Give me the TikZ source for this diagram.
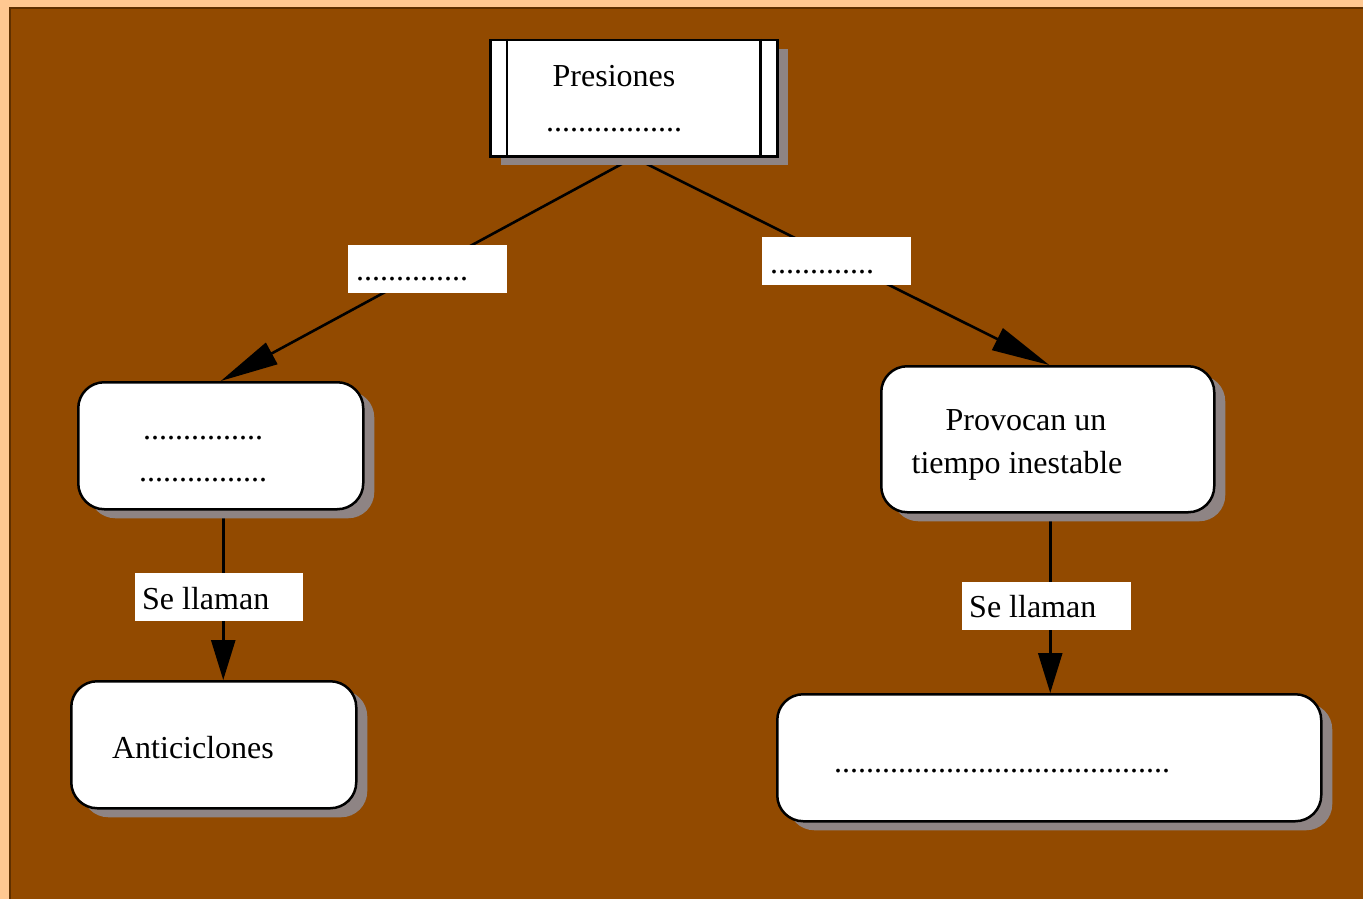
\documentclass[tikz,border=0pt]{standalone}
\usepackage{fontspec}
\setmainfont{Liberation Serif}
\usetikzlibrary{arrows.meta,shadows}
\definecolor{peach}{RGB}{255,200,145}
\definecolor{brownbg}{RGB}{146,74,0}
\definecolor{brownedge}{RGB}{95,48,0}
\definecolor{shadowgray}{RGB}{142,132,132}
\pgfdeclarelayer{back}
\pgfdeclarelayer{mid}
\pgfsetlayers{back,mid,main}
\begin{document}
\begin{tikzpicture}[x=1pt,y=-1pt,
  font=\fontsize{32}{38}\selectfont,
  shadowed/.style={drop shadow={shadow xshift=11pt,shadow yshift=-9pt,fill=shadowgray,opacity=1}},
  topbox/.style={draw=black,line width=2.5pt,fill=white,inner sep=0pt,shadowed},
  box/.style={draw=black,line width=2.5pt,fill=white,inner sep=0pt,rounded corners=26pt,shadowed},
  lab/.style={fill=white,inner sep=0pt,anchor=north west},
  txt/.style={inner sep=0pt,anchor=base},
  txtl/.style={inner sep=0pt,anchor=base west},
  conn/.style={line width=2.6pt,-{Triangle[length=58pt,width=24pt]}},
  vconn/.style={line width=2.6pt,-{Triangle[length=40pt,width=24pt]}}
]
\useasboundingbox (0,0) rectangle (1363,899);
\begin{pgfonlayer}{back}
  \fill[peach] (0,0) rectangle (1363,899);
  \fill[brownbg] (9,7) rectangle (1363,899);
  \draw[brownedge,line width=2pt] (10,899) -- (10,8) -- (1363,8);
\end{pgfonlayer}

% boxes
\node[topbox,anchor=north west,minimum width=287pt,minimum height=116pt] (top) at (489,39) {};
\draw[line width=2.5pt] ([xshift=18pt]top.north west) -- ([xshift=18pt]top.south west);
\draw[line width=2.5pt] ([xshift=-18pt]top.north east) -- ([xshift=-18pt]top.south east);
\node[txt] (tPres) at (614,87) {Presiones};
\node[txt] (tPresDots) at (614,131) {.................};

\node[box,anchor=north west,minimum width=285pt,minimum height=127pt] (lm) at (77,381) {};
\node[txt] (tLm1) at (203,439) {...............};
\node[txt] (tLm2) at (203,481) {................};

\node[box,anchor=north west,minimum width=333pt,minimum height=146pt] (rm) at (880,365) {};
\node[txt] (tRm1) at (1026,430) {Provocan un};
\node[txt] (tRm2) at (1017,473) {tiempo inestable};

\node[box,anchor=north west,minimum width=285pt,minimum height=127pt] (bl) at (70,680) {};
\node[txt] (tBl) at (193,758) {Anticiclones};

\node[box,anchor=north west,minimum width=544pt,minimum height=127pt] (br) at (776,693) {};
\node[txt] (tBr) at (1002,772) {..........................................};

% connectors
\begin{pgfonlayer}{mid}
  \draw[conn] (top.south) -- (lm.north);
  \draw[conn] (top.south) -- ([xshift=1.5pt]rm.north);
  \draw[vconn] ([xshift=2.5pt]lm.south) -- ([xshift=2.5pt]lm.south |- bl.north);
  \draw[vconn] ([xshift=2.5pt]rm.south) -- ([xshift=2.5pt]rm.south |- br.north);
\end{pgfonlayer}

% labels
\node[lab,minimum width=159pt,minimum height=48pt] (labL) at (348,245) {};
\node[txtl] (tLabL) at (356,280) {..............};
\node[lab,minimum width=149pt,minimum height=48pt] (labR) at (762,237) {};
\node[txtl] (tLabR) at (770,273) {.............};
\node[lab,minimum width=168pt,minimum height=48pt] (labSL) at (135,573) {};
\node[txtl] (tSL) at (142,609) {Se llaman};
\node[lab,minimum width=169pt,minimum height=48pt] (labSR) at (962,582) {};
\node[txtl] (tSR) at (969,617) {Se llaman};
\end{tikzpicture}
\end{document}
